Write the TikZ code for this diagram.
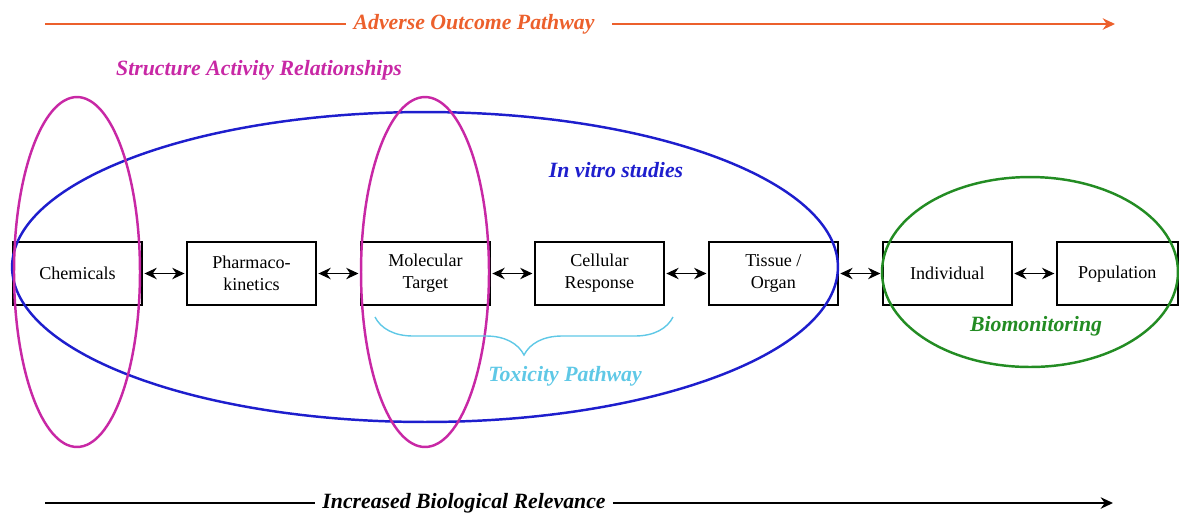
\documentclass[tikz,border=0pt]{standalone}
\usepackage{fontspec}
\setmainfont{Liberation Serif}
\usetikzlibrary{positioning,decorations.pathreplacing,arrows.meta}

\definecolor{aoporange}{RGB}{236,96,44}
\definecolor{sarmagenta}{RGB}{200,40,165}
\definecolor{vitroblue}{RGB}{30,30,205}
\definecolor{toxcyan}{RGB}{95,200,230}
\definecolor{biogreen}{RGB}{35,140,35}

\begin{document}
\begin{tikzpicture}[%
    x=0.02cm, y=-0.02cm,
    >={Stealth[length=7pt,width=6.5pt]},
    node distance=3.48cm,
    on grid,
    level/.style={draw, line width=0.8pt, minimum width=2.58cm, minimum height=1.26cm,
                  align=center, inner sep=1pt, font=\fontsize{10.3}{12.5}\selectfont},
    link/.style={<->, line width=0.7pt, shorten >=1pt, shorten <=1pt},
    tag/.style={font=\fontsize{12.4}{14}\selectfont\bfseries\itshape},
    ring/.style={line width=1.4pt},
    axis/.style={line width=1.1pt}
  ]
    \useasboundingbox (0,0) rectangle (1179,515);

    % levels of organisation
    \node[level] (chem) at (77.5,273.5) {Chemicals};
    \node[level] (pk) [right=of chem] {Pharmaco-\\kinetics};
    \node[level] (target) [right=of pk] {Molecular\\Target};
    \node[level] (cell) [right=of target] {Cellular\\Response};
    \node[level] (organ) [right=of cell] {Tissue /\\Organ};
    \node[level] (indiv) [right=of organ] {Individual};
    \node[level, minimum width=2.42cm, text depth=0.3ex] (popul) [right=3.4cm of indiv] {Population};

    \path[link] (chem)   edge (pk)
                (pk)     edge (target)
                (target) edge (cell)
                (cell)   edge (organ)
                (organ)  edge (indiv)
                (indiv)  edge (popul);

    % groupings
    \draw[ring, vitroblue] (425,267) ellipse [x radius=8.26cm, y radius=3.1cm];
    \draw[ring, sarmagenta] (77,272) ellipse [x radius=1.26cm, y radius=3.5cm];
    \draw[ring, sarmagenta] (425,272) ellipse [x radius=1.28cm, y radius=3.5cm];
    \draw[ring, biogreen] (1030,272) ellipse [x radius=2.96cm, y radius=1.9cm];

    \node[tag, text=sarmagenta] (sar) at (259,70) {Structure Activity Relationships};
    \node[tag, text=vitroblue] (vitro) at (616,170) {In vitro studies};
    \node[tag, text=biogreen] (bio) at (1036,326) {Biomonitoring};

    % toxicity pathway brace
    \coordinate (toxR) at (673,317);
    \coordinate (toxL) at (375,317);
    \draw[toxcyan, line width=0.8pt, decorate, decoration={brace, amplitude=0.76cm}] (toxR) -- (toxL);
    \node[tag, text=toxcyan] (tox) at (565,376) {Toxicity Pathway};

    % axes
    \coordinate (aopstart) at (45,24);
    \coordinate (aopend) at (1115,24);
    \node[tag, text=aoporange, inner xsep=4pt] (aop) at (474,24) {Adverse Outcome Pathway};
    \draw[axis, aoporange] (aopstart) -- (aop.west);
    \draw[axis, aoporange, ->, shorten <=6pt] (aop.east) -- (aopend);

    \coordinate (relstart) at (45,503);
    \coordinate (relend) at (1113,503);
    \node[tag, inner xsep=4pt] (rel) at (464,503) {Increased Biological Relevance};
    \draw[axis] (relstart) -- (rel.west);
    \draw[axis, ->] (rel.east) -- (relend);
\end{tikzpicture}
\end{document}
